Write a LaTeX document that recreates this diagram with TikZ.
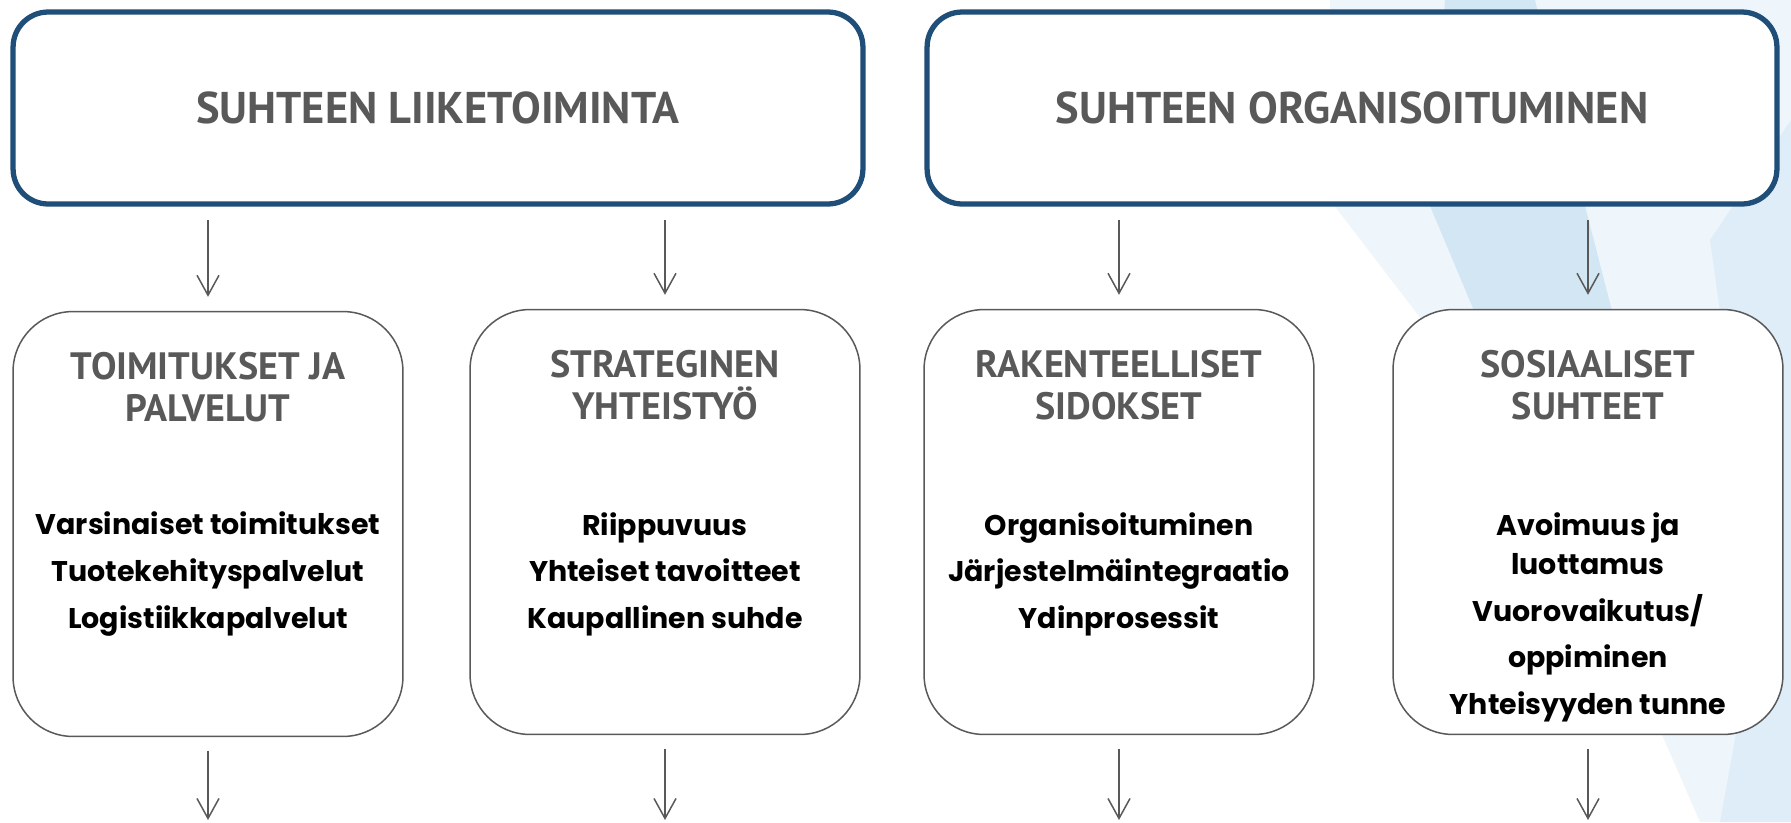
\documentclass[tikz,border=0pt]{standalone}
\usepackage{fontspec}
\setmainfont{Poppins}
\newfontfamily\headfont{PT Sans}
\usetikzlibrary{arrows.meta}
\definecolor{rimblue}{HTML}{1F4E79}
\definecolor{headgray}{HTML}{595959}
\definecolor{wmpale}{HTML}{EEF5FB}
\definecolor{wmlight}{HTML}{DFEDF8}
\definecolor{wmdark}{HTML}{D3E6F4}
\tikzset{
  mainbox/.style={draw=rimblue, line width=3pt, fill=white, rounded corners=0.7cm,
    minimum width=17cm, minimum height=3.84cm, text=headgray,
    font=\headfont\bfseries\fontsize{25.3}{30}\selectfont},
  subbox/.style={draw=headgray, line width=0.85pt, fill=white, rounded corners=1.2cm,
    minimum width=7.8cm, minimum height=8.5cm},
  subhead/.style={align=center, text=headgray, font=\headfont\bfseries\fontsize{21.7}{24}\selectfont},
  subtext/.style={align=center, font=\bfseries\fontsize{16.2}{26.5}\selectfont},
  arr/.style={draw=headgray, line width=0.85pt, -{Straight Barb[length=0.4cm,width=0.44cm]},
    shorten <=0.27cm, shorten >=0.28cm}
}
\begin{document}
\begin{tikzpicture}[x=0.02cm, y=-0.02cm]
\useasboundingbox[fill=white] (0,0) rectangle (1791,822);
% faint watermark at the right
\fill[wmpale] (1330,0) -- (1791,0) -- (1791,822) -- (1700,822) -- (1560,500) -- (1330,200) -- cycle;
\fill[wmdark] (1445,0) -- (1535,0) -- (1585,206) -- (1640,420) -- (1520,420) -- (1430,206) -- cycle;
\fill[wmlight] (1791,120) -- (1791,822) -- (1720,822) -- (1760,600) -- (1710,240) -- cycle;

\node[mainbox] (top1) at (438,108) {SUHTEEN LIIKETOIMINTA};
\node[mainbox] (top2) at (1352,108) {SUHTEEN ORGANISOITUMINEN};

\node[subbox] (sub1) at (208,524) {};
\node[subbox] (sub2) at (665,522) {};
\node[subbox] (sub3) at (1119,522) {};
\node[subbox] (sub4) at (1588,522) {};

\node[subhead] (head1) at (208,387) {TOIMITUKSET JA\\PALVELUT};
\node[subhead] (head2) at (665,385) {STRATEGINEN\\YHTEISTYÖ};
\node[subhead] (head3) at (1119,385) {RAKENTEELLISET\\SIDOKSET};
\node[subhead] (head4) at (1588,385) {SOSIAALISET\\SUHTEET};

\node[subtext] (text1) at (208,574) {Varsinaiset toimitukset\\Tuotekehityspalvelut\\Logistiikkapalvelut};
\node[subtext] (text2) at (665,574) {Riippuvuus\\Yhteiset tavoitteet\\Kaupallinen suhde};
\node[subtext] (text3) at (1119,574) {Organisoituminen\\Järjestelmäintegraatio\\Ydinprosessit};
\node[subtext] (text4) at (1588,617) {Avoimuus ja\\[-4pt]luottamus\\Vuorovaikutus/\\oppiminen\\Yhteisyyden tunne};

\coordinate (out1) at (208,820);
\coordinate (out2) at (665,820);
\coordinate (out3) at (1119,820);
\coordinate (out4) at (1588,820);

\draw[arr] (top1.south -| sub1.north) -- (sub1.north);
\draw[arr] (top1.south -| sub2.north) -- (sub2.north);
\draw[arr] (top2.south -| sub3.north) -- (sub3.north);
\draw[arr] (top2.south -| sub4.north) -- (sub4.north);
\foreach \i in {1,...,4}
  \draw[arr, shorten >=0pt] (sub\i.south) -- (out\i);
\end{tikzpicture}
\end{document}
